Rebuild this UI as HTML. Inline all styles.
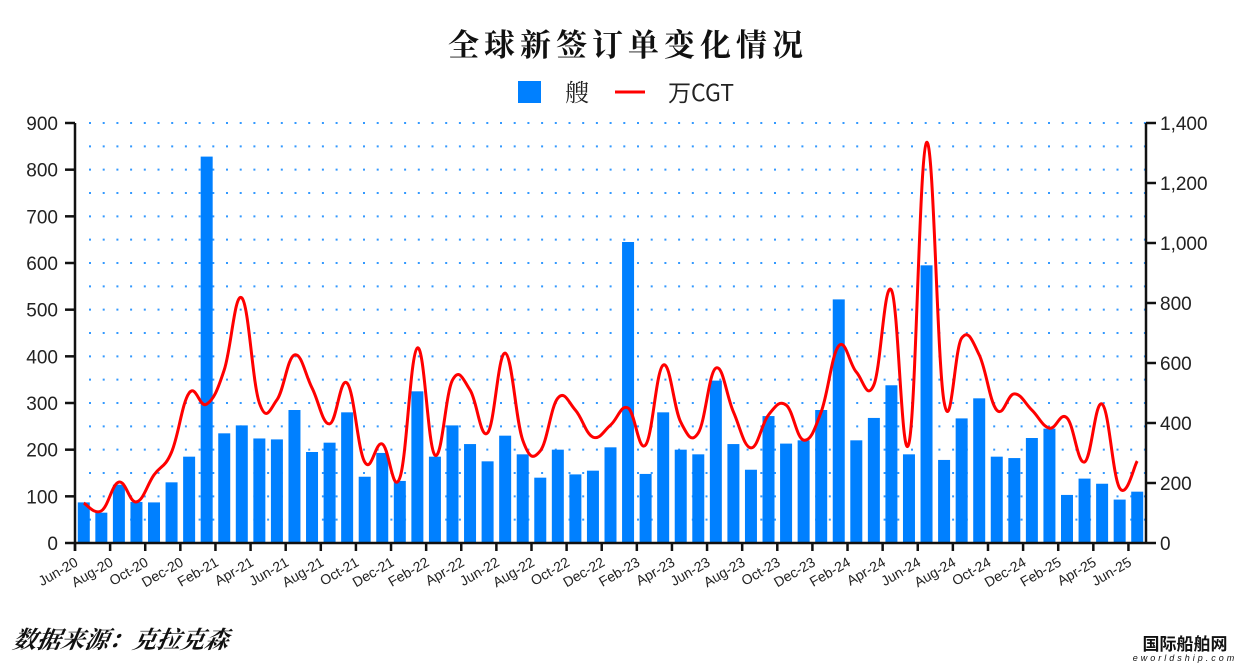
<!DOCTYPE html>
<html><head><meta charset="utf-8"><style>
html,body{margin:0;padding:0;background:#fff;}
svg{display:block;}
</style></head><body>
<svg id="c" width="1234" height="664" xmlns="http://www.w3.org/2000/svg" font-family="Liberation Sans, sans-serif">
<text x="628" y="56" text-anchor="middle" font-family="Noto Serif CJK SC, serif" font-weight="bold" font-size="31" letter-spacing="5" fill="#111">全球新签订单变化情况</text>
<rect x="518" y="81" width="23" height="22" fill="#0080ff"/>
<text x="565" y="101" font-family="Noto Serif CJK SC, serif" font-size="24" fill="#222">艘</text>
<line x1="615" y1="92" x2="645" y2="92" stroke="#f00" stroke-width="3"/>
<text x="668" y="101" font-family="Noto Sans CJK SC, sans-serif" font-size="23" fill="#222">万CGT</text>
<g id="grid"></g>
<g id="bars"></g>
<path id="line" fill="none" stroke="#f00" stroke-width="3" stroke-linejoin="round"/>
<g id="axes" stroke="#111" stroke-width="2.5"></g>
<g id="labels" font-size="19" fill="#222"></g>
<text x="12" y="648" font-family="Noto Serif CJK SC, serif" font-weight="bold" font-style="italic" font-size="24" fill="#111" transform="skewX(-10) translate(114,0)">数据来源：克拉克森</text>
<text x="1185" y="650" text-anchor="middle" font-family="Noto Sans CJK SC, sans-serif" font-weight="bold" font-size="17" fill="#111">国际船舶网</text>
<text x="1185" y="661" text-anchor="middle" font-size="9" font-style="italic" letter-spacing="3" fill="#111">eworldship.com</text>
</svg>
<script>
var ns="http://www.w3.org/2000/svg";
function el(t,a,p,txt){var e=document.createElementNS(ns,t);for(var k in a)e.setAttribute(k,a[k]);if(txt!=null)e.textContent=txt;document.getElementById(p).appendChild(e);return e;}
var L=75,R=1146,T=123,B=543,slot=(R-L)/61;
var bars=[87,65,125,88,87,130,185,828,235,252,224,222,285,195,215,280,142,193,133,325,185,252,212,175,230,190,140,200,147,155,205,645,148,280,200,190,348,212,157,272,213,220,285,522,220,268,338,190,595,178,267,310,185,182,225,245,103,138,127,93,110];
var cgt=[133,107,203,137,227,303,500,463,577,817,467,477,627,517,397,533,270,330,217,650,293,543,510,367,633,343,307,483,443,353,393,450,327,593,403,367,583,437,317,427,460,343,437,657,570,527,843,333,1335,470,683,627,443,497,443,383,417,270,463,183,273];
for(var v=0;v<=900;v+=50){var y=B-v*420/900;if(v>0)el('line',{x1:L+14,y1:y,x2:R,y2:y,stroke:'#3399ff','stroke-width':2,'stroke-dasharray':'2 11.7'},'grid');}
for(var i=0;i<61;i++){var cx=L+slot*(i+0.5),h=bars[i]*420/900;el('rect',{x:cx-6,y:B-h,width:12,height:h,fill:'#0080ff'},'bars');}
var P=cgt.map(function(v,i){return [L+slot*(i+0.5),B-v*0.3];});
var d='M'+P[0][0]+','+P[0][1];
for(var i=0;i<P.length-1;i++){var p0=P[i-1]||P[i],p1=P[i],p2=P[i+1],p3=P[i+2]||p2;var t=5;
d+=' C'+(p1[0]+(p2[0]-p0[0])/t)+','+(p1[1]+(p2[1]-p0[1])/t)+' '+(p2[0]-(p3[0]-p1[0])/t)+','+(p2[1]-(p3[1]-p1[1])/t)+' '+p2[0]+','+p2[1];}
document.getElementById('line').setAttribute('d',d);
el('line',{x1:L,y1:T,x2:L,y2:B+8},'axes');
el('line',{x1:R,y1:T,x2:R,y2:B},'axes');
el('line',{x1:L,y1:B,x2:R,y2:B},'axes');
for(var v=0;v<=900;v+=100){var y=B-v*420/900;el('line',{x1:L-10,y1:y,x2:L,y2:y},'axes');el('text',{x:58,y:y+7,'text-anchor':'end'},'labels',String(v));}
for(var v=0;v<=1400;v+=200){var y=B-v*0.3;el('line',{x1:R,y1:y,x2:R+10,y2:y},'axes');el('text',{x:1160,y:y+7},'labels',v>=1000?(Math.floor(v/1000)+','+String(v%1000).padStart(3,'0')):String(v));}
var mn=['Jan','Feb','Mar','Apr','May','Jun','Jul','Aug','Sep','Oct','Nov','Dec'];
for(var k=0;k<=30;k++){var x=L+slot*2*k;el('line',{x1:x,y1:B,x2:x,y2:B+8},'axes');
var m=(5+2*k),yr=20+Math.floor(m/12);var lab=mn[m%12]+'-'+yr;
el('text',{x:x+4,y:B+22,'text-anchor':'end','font-size':14,transform:'rotate(-30 '+(x+4)+' '+(B+22)+')'},'labels',lab);}
</script>
</body></html>
